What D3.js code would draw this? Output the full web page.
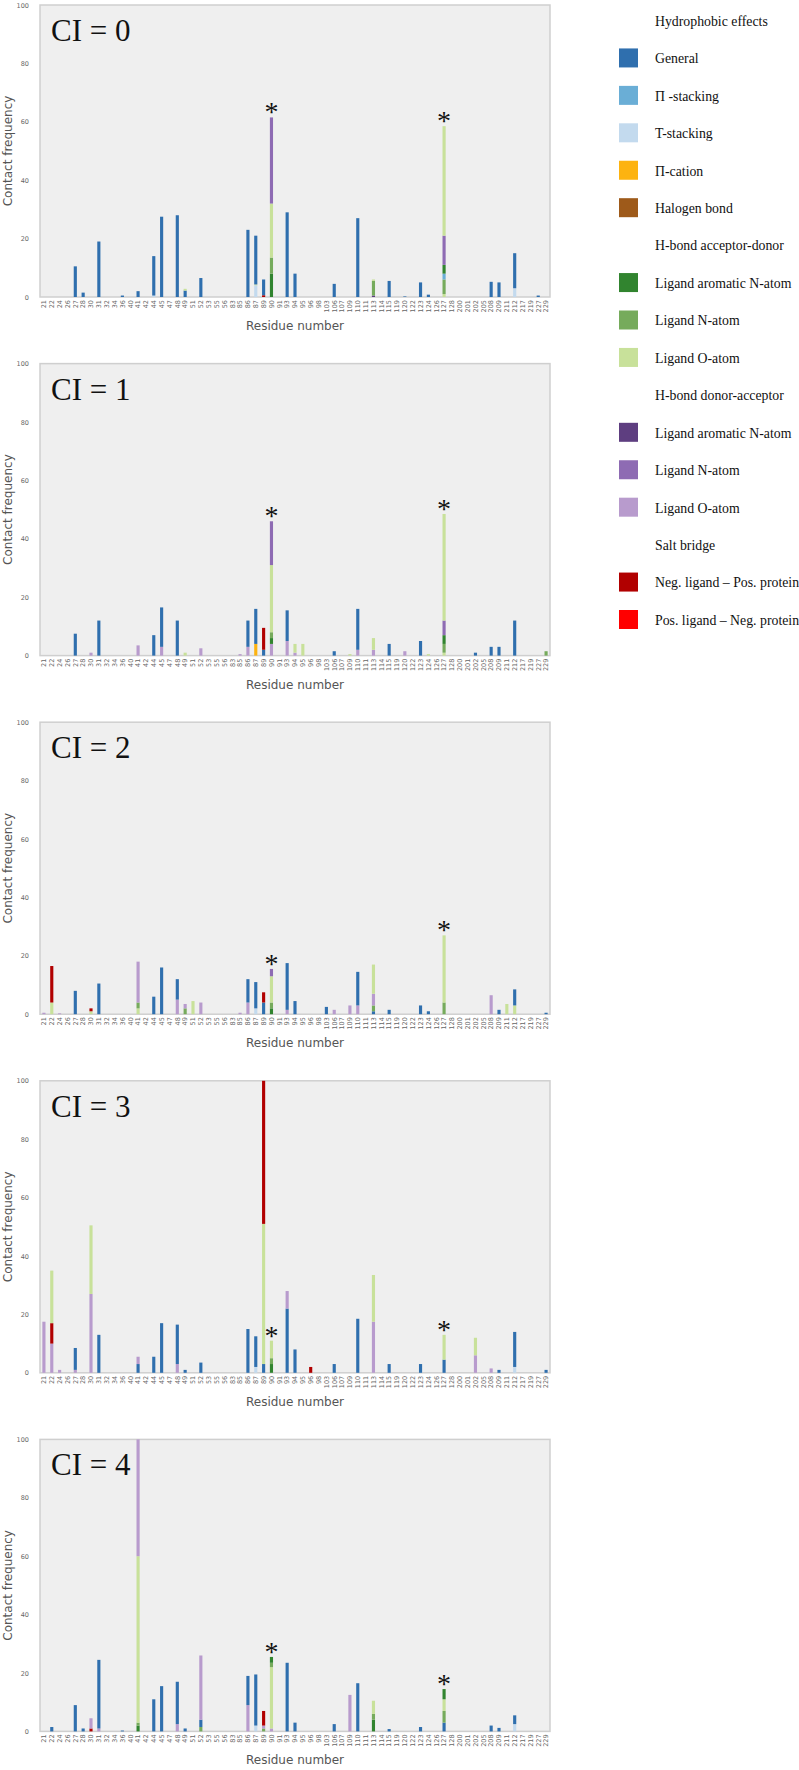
<!DOCTYPE html>
<html>
<head>
<meta charset="utf-8">
<title>Contact frequency per residue</title>
<script src="https://d3js.org/d3.v7.min.js"></script>
<style>
  body { margin: 0; background: #fff; }
  .tick text { fill: #666; font-family: "DejaVu Sans", sans-serif; }
  .axis-title { fill: #555; font-family: "DejaVu Sans", sans-serif; font-size: 12px; }
  .legend text, .ci-label, .star { font-family: "Liberation Serif", "Times New Roman", serif; fill: #111; }
</style>
</head>
<body>
<div id="chart"></div>
<script>
// residues on the x axis
var residues = ["21","22","24","26","27","28","30","31","32","34","36","40","41","42","44","45","47","48","49","51","52","53","55","56","83","85","86","87","89","90","91","93","94","95","96","98","103","106","107","109","110","111","113","114","115","119","120","122","123","124","126","127","128","200","201","202","205","208","209","211","212","217","219","227","229"];

// interaction types, in legend order
var typeKeys = ["gen","pi","t","cat","hal","adAr","adN","adO","daAr","daN","daO","sbNeg","sbPos"];
var typeColors = ["#2f6fae","#6aaed6","#c3daee","#fdb310","#9e5a1a","#31842f","#76ab5c","#c8e19a","#5e3e80","#8e6bb3","#b89bcd","#b10000","#ff0000"];

// legend rows: heading rows have no key
var legendRows = [
  ["Hydrophobic effects", null],
  ["General", "gen"],
  ["\u03A0 -stacking", "pi"],
  ["T-stacking", "t"],
  ["\u03A0-cation", "cat"],
  ["Halogen bond", "hal"],
  ["H-bond acceptor-donor", null],
  ["Ligand aromatic N-atom", "adAr"],
  ["Ligand N-atom", "adN"],
  ["Ligand O-atom", "adO"],
  ["H-bond donor-acceptor", null],
  ["Ligand aromatic N-atom", "daAr"],
  ["Ligand N-atom", "daN"],
  ["Ligand O-atom", "daO"],
  ["Salt bridge", null],
  ["Neg. ligand \u2013 Pos. protein", "sbNeg"],
  ["Pos. ligand \u2013 Neg. protein", "sbPos"]
];

// contact frequencies, each bar listed bottom to top: [residue, [[type, value], ...]]
var ci0 = [
  ["27", [["gen",10.5]]],
  ["28", [["gen",1.5]]],
  ["31", [["gen",19]]],
  ["36", [["gen",0.5]]],
  ["41", [["gen",2]]],
  ["44", [["t",0.5],["gen",13.5]]],
  ["45", [["gen",27.5]]],
  ["48", [["gen",28]]],
  ["49", [["gen",2.2],["adO",0.6]]],
  ["52", [["gen",6.5]]],
  ["86", [["gen",23]]],
  ["87", [["t",4],["adO",0.3],["gen",16.7]]],
  ["89", [["sbNeg",0.6],["gen",5.4]]],
  ["90", [["adAr",8],["adN",5.5],["adO",18.5],["daN",29.5]]],
  ["93", [["gen",29]]],
  ["94", [["gen",8]]],
  ["106", [["gen",4.5]]],
  ["110", [["gen",27]]],
  ["113", [["daAr",0.5],["adN",5],["adO",0.5]]],
  ["115", [["gen",5.5]]],
  ["120", [["gen",0.2]]],
  ["123", [["gen",5]]],
  ["124", [["gen",0.8]]],
  ["127", [["adO",1],["adN",5],["pi",2],["adAr",3],["daN",10],["adO",37.5]]],
  ["208", [["gen",5.2]]],
  ["209", [["gen",5]]],
  ["212", [["t",3],["gen",12]]],
  ["227", [["gen",0.5]]]
];
var ci1 = [
  ["27", [["gen",7.5]]],
  ["30", [["daO",1]]],
  ["31", [["gen",12]]],
  ["41", [["daO",3.5]]],
  ["44", [["gen",7]]],
  ["45", [["daO",3],["gen",13.5]]],
  ["48", [["gen",12]]],
  ["49", [["adO",1]]],
  ["52", [["daO",2.5]]],
  ["85", [["daO",0.5]]],
  ["86", [["daO",3],["gen",9]]],
  ["87", [["cat",4],["gen",12]]],
  ["89", [["gen",2],["sbNeg",7.5]]],
  ["90", [["daO",4],["adAr",2],["adN",2],["adO",23],["daN",15]]],
  ["93", [["daO",5],["gen",10.5]]],
  ["94", [["daO",1],["adO",3]]],
  ["95", [["adO",4]]],
  ["106", [["gen",1.5]]],
  ["109", [["adO",0.5]]],
  ["110", [["daO",2],["gen",14]]],
  ["113", [["daO",2],["adO",4]]],
  ["115", [["gen",4]]],
  ["120", [["daO",1.5]]],
  ["123", [["gen",5]]],
  ["124", [["adO",0.5]]],
  ["127", [["adO",1],["adN",3],["adAr",3],["daN",5],["adO",36.5]]],
  ["202", [["gen",1]]],
  ["208", [["gen",3]]],
  ["209", [["gen",3]]],
  ["212", [["gen",12]]],
  ["229", [["adN",1.5]]]
];
var ci2 = [
  ["21", [["daO",0.5]]],
  ["22", [["adO",4],["sbNeg",12.5]]],
  ["24", [["daO",0.3]]],
  ["27", [["gen",8]]],
  ["30", [["adO",1],["sbNeg",1]]],
  ["31", [["gen",10.5]]],
  ["41", [["adO",2],["adN",2],["daO",14]]],
  ["44", [["gen",6]]],
  ["45", [["gen",16]]],
  ["48", [["daO",5],["gen",7]]],
  ["49", [["adN",2],["daO",1.5]]],
  ["51", [["adO",4.5]]],
  ["52", [["daO",4]]],
  ["85", [["daO",0.5]]],
  ["86", [["daO",4],["gen",8]]],
  ["87", [["t",2],["gen",9]]],
  ["89", [["gen",4],["sbNeg",3.5]]],
  ["90", [["adAr",2],["adN",2],["adO",9],["daN",2.5]]],
  ["93", [["daO",1.5],["gen",16]]],
  ["94", [["gen",4.5]]],
  ["103", [["gen",2.5]]],
  ["106", [["daO",1.5]]],
  ["109", [["daO",3]]],
  ["110", [["daO",3],["gen",11.5]]],
  ["113", [["gen",1],["adN",2],["daO",4],["adO",10]]],
  ["115", [["gen",1.5]]],
  ["123", [["gen",3]]],
  ["124", [["gen",1]]],
  ["127", [["adN",4],["adO",23]]],
  ["208", [["daO",6.5]]],
  ["209", [["gen",1.5]]],
  ["211", [["adO",3.5]]],
  ["212", [["adO",3],["gen",5.5]]],
  ["229", [["gen",0.5]]]
];
var ci3 = [
  ["21", [["daO",17.5]]],
  ["22", [["daO",10],["sbNeg",7],["adO",18]]],
  ["24", [["daO",1]]],
  ["27", [["daO",1],["gen",7.5]]],
  ["30", [["daO",27],["adO",23.5]]],
  ["31", [["gen",13]]],
  ["41", [["gen",3],["daO",2.5]]],
  ["44", [["gen",5.5]]],
  ["45", [["gen",17]]],
  ["48", [["daO",3],["gen",13.5]]],
  ["49", [["gen",1]]],
  ["52", [["gen",3.5]]],
  ["86", [["gen",15]]],
  ["87", [["t",2],["gen",10.5]]],
  ["89", [["gen",3],["adO",48],["sbNeg",49]]],
  ["90", [["adAr",3],["adN",2],["adO",6]]],
  ["93", [["gen",22],["daO",6]]],
  ["94", [["gen",8]]],
  ["96", [["sbNeg",2]]],
  ["106", [["gen",3]]],
  ["110", [["gen",18.5]]],
  ["113", [["daO",17.5],["adO",16]]],
  ["115", [["gen",3]]],
  ["123", [["gen",3]]],
  ["127", [["gen",4.5],["adO",8.5]]],
  ["202", [["daO",6],["adO",6]]],
  ["208", [["daO",1.5]]],
  ["209", [["gen",1]]],
  ["212", [["t",2],["gen",12]]],
  ["229", [["gen",1]]]
];
var ci4 = [
  ["22", [["gen",1.5]]],
  ["27", [["gen",9]]],
  ["28", [["gen",1]]],
  ["30", [["sbNeg",1],["daO",3.5]]],
  ["31", [["daO",1],["gen",23.5]]],
  ["36", [["gen",0.3]]],
  ["41", [["adAr",2],["adN",1],["adO",57],["daO",40]]],
  ["44", [["gen",11]]],
  ["45", [["gen",15.5]]],
  ["48", [["daO",2.5],["gen",14.5]]],
  ["49", [["gen",1]]],
  ["52", [["adN",1.5],["gen",2.5],["daO",22]]],
  ["86", [["daO",9],["gen",10]]],
  ["87", [["t",2],["gen",17.5]]],
  ["89", [["adN",1],["daO",1],["sbNeg",5]]],
  ["90", [["daO",1],["adO",21],["adN",1.5],["adAr",2]]],
  ["93", [["gen",23.5]]],
  ["94", [["gen",3]]],
  ["106", [["gen",2.5]]],
  ["109", [["daO",12.5]]],
  ["110", [["gen",16.5]]],
  ["113", [["adAr",4],["adN",2],["adO",4.5]]],
  ["115", [["gen",0.8]]],
  ["123", [["gen",1.5]]],
  ["127", [["gen",3],["adN",4],["adO",4],["adAr",3.5]]],
  ["208", [["gen",2]]],
  ["209", [["gen",1.2]]],
  ["212", [["t",2.5],["gen",3]]]
];

var panels = [ci0, ci1, ci2, ci3, ci4];
var panelLabels = ["CI = 0", "CI = 1", "CI = 2", "CI = 3", "CI = 4"];
var starResidues = ["90", "127"];
var yTicks = [0, 20, 40, 60, 80, 100];

var colorOf = d3.scaleOrdinal().domain(typeKeys).range(typeColors);

var svg = d3.select("#chart")
  .append("svg")
  .attr("width", 799)
  .attr("height", 1770);

var plotLeft = 40, plotRight = 550, plotH = 292, panelStep = 358.6, firstTop = 5;

var x = d3.scaleBand()
  .domain(residues)
  .range([plotLeft, plotRight])
  .paddingInner(0.6)
  .paddingOuter(0.3);

var y = d3.scaleLinear().domain([0, 100]).range([plotH, 0]);

panels.forEach(function(bars, i) {
  var g = svg.append("g")
    .attr("transform", "translate(0," + (firstTop + i * panelStep) + ")");

  g.append("rect")
    .attr("x", plotLeft)
    .attr("y", 0)
    .attr("width", plotRight - plotLeft)
    .attr("height", plotH)
    .attr("fill", "#efefef")
    .attr("stroke", "#cfcfcf")
    .attr("stroke-width", 1.5);

  // flatten each bar into stacked segments
  var segs = [];
  bars.forEach(function(b) {
    var base = 0;
    b[1].forEach(function(s) {
      segs.push({ r: b[0], type: s[0], y0: base, y1: base + s[1] });
      base += s[1];
    });
    b.total = base;
  });

  g.selectAll("rect.seg")
    .data(segs)
    .enter()
    .append("rect")
    .attr("class", "seg")
    .attr("x", function(d) { return x(d.r); })
    .attr("width", x.bandwidth())
    .attr("y", function(d) { return y(d.y1); })
    .attr("height", function(d) { return y(d.y0) - y(d.y1); })
    .attr("fill", function(d) { return colorOf(d.type); });

  // asterisks over the marked residues
  var starred = bars.filter(function(b) { return starResidues.indexOf(b[0]) >= 0; });
  g.selectAll("text.star")
    .data(starred)
    .enter()
    .append("text")
    .attr("class", "star")
    .attr("x", function(d) { return x(d[0]) + x.bandwidth() / 2; })
    .attr("y", function(d) { return y(d.total) + 4; })
    .attr("text-anchor", "middle")
    .attr("font-size", 28)
    .text("*");

  var xAxis = g.append("g")
    .attr("transform", "translate(0," + plotH + ")")
    .call(d3.axisBottom(x).tickSize(0).tickPadding(0));
  xAxis.select(".domain").remove();
  xAxis.selectAll("text")
    .attr("font-size", 6.5)
    .attr("y", 0)
    .attr("x", -3)
    .attr("dy", "0.35em")
    .attr("transform", "rotate(-90)")
    .style("text-anchor", "end");

  var yAxis = g.append("g")
    .attr("transform", "translate(" + plotLeft + ",0)")
    .call(d3.axisLeft(y).tickValues(yTicks).tickSize(0).tickPadding(11));
  yAxis.select(".domain").remove();
  yAxis.selectAll("text").attr("font-size", 6.5);

  g.append("text")
    .attr("class", "axis-title")
    .attr("x", (plotLeft + plotRight) / 2)
    .attr("y", plotH + 33)
    .attr("text-anchor", "middle")
    .text("Residue number");

  g.append("text")
    .attr("class", "axis-title")
    .attr("transform", "translate(12," + (plotH / 2) + ") rotate(-90)")
    .attr("text-anchor", "middle")
    .text("Contact frequency");

  g.append("text")
    .attr("class", "ci-label")
    .attr("x", 51)
    .attr("y", 36)
    .attr("font-size", 31)
    .text(panelLabels[i]);
});

// legend
var legend = svg.append("g").attr("class", "legend");
var rowY = d3.scalePoint().domain(d3.range(legendRows.length)).range([21, 620]);

var rows = legend.selectAll("g")
  .data(legendRows)
  .enter()
  .append("g")
  .attr("transform", function(d, i) { return "translate(0," + rowY(i) + ")"; });

rows.filter(function(d) { return d[1]; })
  .append("rect")
  .attr("x", 619)
  .attr("y", -10)
  .attr("width", 19)
  .attr("height", 19)
  .attr("fill", function(d) { return colorOf(d[1]); });

rows.append("text")
  .attr("x", 655)
  .attr("dy", "0.35em")
  .attr("font-size", 13.8)
  .text(function(d) { return d[0]; });
</script>
</body>
</html>
